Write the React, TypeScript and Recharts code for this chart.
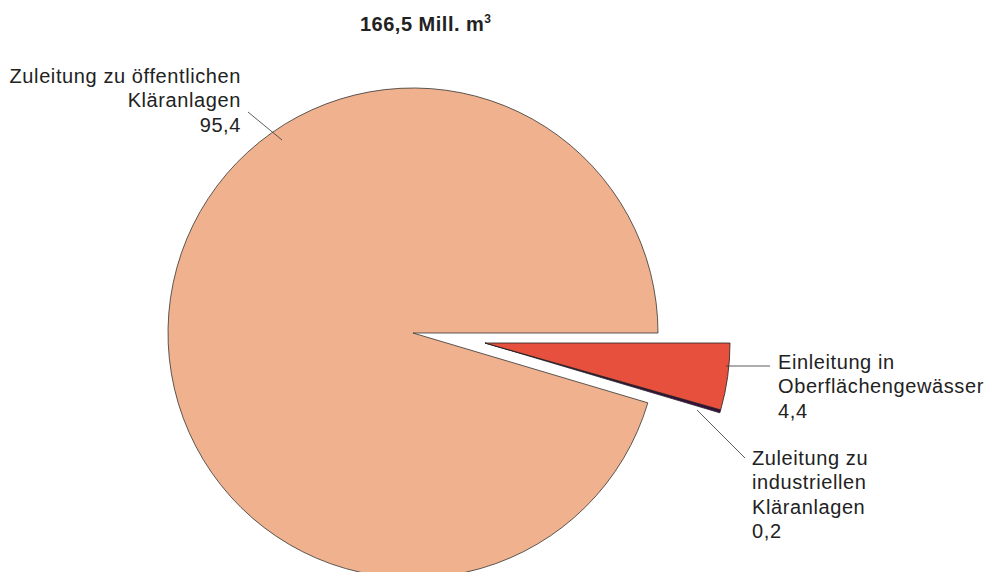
import React from 'react';
import { PieChart, Pie, Cell } from 'recharts';

// Abwasser 166,5 Mill. m³, Anteile in %
const names = ['Zuleitung zu öffentlichen Kläranlagen', 'Zuleitung zu industriellen Kläranlagen', 'Einleitung in Oberflächengewässer'];
const shares = [95.4, 0.2, 4.4];
const shareLabels = ['95,4', '0,2', '4,4'];
const colors = ['#F0B28E', '#3B0F3D', '#E8503E'];
const title = '166,5 Mill. m';

const data = names.map((name, i) => ({ name, value: shares[i] }));

const FONT = '"Liberation Sans", Arial, sans-serif';

// label boxes: text lines, anchor, leader line
const labelLayout: Record<number, { lines: string[]; x: number; y: number; anchor: 'start' | 'end'; line: [number, number, number, number] }> = {
  0: { lines: ['Zuleitung zu öffentlichen', 'Kläranlagen', shareLabels[0]], x: 241, y: 83, anchor: 'end', line: [248, 112, 282, 140] },
  1: { lines: ['Zuleitung zu', 'industriellen', 'Kläranlagen', shareLabels[1]], x: 752, y: 465, anchor: 'start', line: [697, 410, 745, 458] },
  2: { lines: ['Einleitung in', 'Oberflächengewässer', shareLabels[2]], x: 778, y: 369, anchor: 'start', line: [726, 366, 770, 366] },
};

const renderLabel = (visible: number[]) => (props: any) => {
  const { index } = props;
  if (!visible.includes(index)) return <g />;
  const l = labelLayout[index];
  return (
    <g>
      <line x1={l.line[0]} y1={l.line[1]} x2={l.line[2]} y2={l.line[3]} stroke="#333" strokeWidth={0.8} />
      <text x={l.x} y={l.y} textAnchor={l.anchor} fontFamily={FONT} fontSize={20} letterSpacing={0.6} fill="#222">
        {l.lines.map((t, k) => (
          <tspan key={k} x={l.x} dy={k === 0 ? 0 : 24.3}>{t}</tspan>
        ))}
      </text>
    </g>
  );
};

export default function App() {
  return (
    <div style={{ position: 'absolute', left: 0, top: 0, width: 989, height: 572, background: '#fff' }}>
      <div style={{ position: 'absolute', left: 360, top: 14, fontFamily: FONT, fontSize: 20, lineHeight: '20px', letterSpacing: 0.5, fontWeight: 'bold', color: '#222', whiteSpace: 'nowrap' }}>
        {title}<sup style={{ fontSize: 12, verticalAlign: 'top', position: 'relative', top: -5 }}>3</sup>
      </div>
      <PieChart width={989} height={572} margin={{ top: 0, right: 0, bottom: 0, left: 0 }} style={{ position: 'absolute', left: 0, top: 0 }}>
        <Pie
          data={data}
          dataKey="value"
          cx={413}
          cy={333}
          outerRadius={245}
          startAngle={0}
          endAngle={360}
          isAnimationActive={false}
          labelLine={false}
          label={renderLabel([0])}
        >
          {data.map((d, i) => (
            <Cell key={`a-${i}`} fill={i === 0 ? colors[i] : 'none'} stroke={i === 0 ? '#333' : 'none'} strokeWidth={0.8} />
          ))}
        </Pie>
        <Pie
          data={data}
          dataKey="value"
          cx={485}
          cy={343}
          outerRadius={245}
          startAngle={0}
          endAngle={360}
          isAnimationActive={false}
          labelLine={false}
          label={renderLabel([1, 2])}
        >
          {data.map((d, i) => (
            <Cell key={`b-${i}`} fill={i === 0 ? 'none' : colors[i]} stroke={i === 0 ? 'none' : '#222'} strokeWidth={0.8} />
          ))}
        </Pie>
      </PieChart>
    </div>
  );
}
